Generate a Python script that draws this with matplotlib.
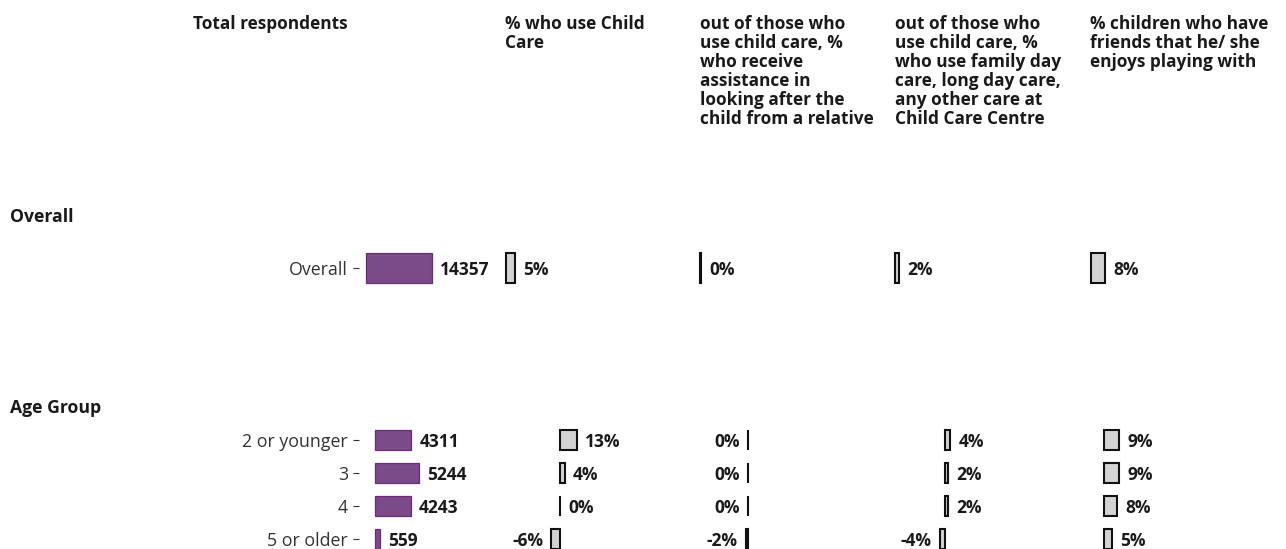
import matplotlib.pyplot as plt

# ---- data ----
headers = [
    "Total respondents",
    "% who use Child\nCare",
    "out of those who\nuse child care, %\nwho receive\nassistance in\nlooking after the\nchild from a relative",
    "out of those who\nuse child care, %\nwho use family day\ncare, long day care,\nany other care at\nChild Care Centre",
    "% children who have\nfriends that he/ she\nenjoys playing with",
]

overall_labels = ["Overall"]
overall_total = [14357]
overall_child_care = [5.0]
overall_relative = [0.2]
overall_centre = [2.4]
overall_friends = [8.0]

age_labels = ["2 or younger", "3", "4", "5 or older"]
age_total = [4311, 5244, 4243, 559]
age_child_care = [13, 4, 0.3, -6]
age_relative = [-0.3, -0.3, -0.3, -2]
age_centre = [4, 2, 2, -4]
age_friends = [9, 9, 8, 5]

# ---- layout (pixels) ----
W, H = 1286, 549
FONT = "Open Sans"
PURPLE = "#7b4a88"
PURPLE_EDGE = "#6a2a78"
GREY = "#d3d3d3"

header_x = [193, 505, 700, 895, 1090]
col_left = [358.5, 480, 680, 875, 1070]
col_width = [140, 200, 200, 200, 200]

fig = plt.figure(figsize=(W / 100, H / 100), dpi=100)


def px_axes(left, top, width, height):
    return fig.add_axes([left / W, 1 - (top + height) / H, width / W, height / H])


def draw_row(labels, series, top, row_h, baselines, scales):
    n = len(labels)
    ypos = list(range(n))
    for i, vals in enumerate(series):
        ax = px_axes(col_left[i], top, col_width[i], row_h * n)
        x0, s = baselines[i], scales[i]
        ax.set_xlim((col_left[i] - x0) / s, (col_left[i] + col_width[i] - x0) / s)
        ax.set_ylim(n - 0.5, -0.5)
        if i == 0:
            ax.barh(ypos, vals, height=0.6, color=PURPLE, edgecolor=PURPLE_EDGE, linewidth=0.9)
        else:
            ax.barh(ypos, vals, height=0.6, color=GREY, edgecolor="#111111", linewidth=1.5)
        for y, v in zip(ypos, vals):
            txt = str(v) if i == 0 else f"{round(v):.0f}%"
            neg = v < 0
            ax.annotate(txt, xy=(v, y), xytext=(-6 if neg else 6, 0),
                        textcoords="offset points", ha="right" if neg else "left",
                        va="center_baseline", fontsize=12.5, fontweight="bold",
                        family=FONT, color="#1a1a1a")
        for sp in ax.spines.values():
            sp.set_visible(False)
        ax.set_xticks([])
        ax.patch.set_visible(False)
        if i == 0:
            ax.set_yticks(ypos)
            ax.set_yticklabels(labels, fontsize=12.8, family=FONT, color="#333333")
            ax.tick_params(axis="y", length=4.5, width=0.8, color="#333333", pad=3)
        else:
            ax.set_yticks([])


# Overall row
draw_row(overall_labels,
         [overall_total, overall_child_care, overall_relative, overall_centre, overall_friends],
         top=243, row_h=50,
         baselines=[366, 505.5, 700.5, 894.5, 1090.5],
         scales=[66 / 14357, 1.8, 1.8, 1.8, 1.8])

# Age group row
draw_row(age_labels,
         [age_total, age_child_care, age_relative, age_centre, age_friends],
         top=423.5, row_h=33,
         baselines=[375, 559.5, 748.5, 945, 1103.5],
         scales=[44 / 5244, 1.35, 1.35, 1.35, 1.7])

# column headers
for x, h in zip(header_x, headers):
    fig.text(x / W, 1 - 15 / H, h, ha="left", va="top", fontsize=12.4,
             fontweight="bold", family=FONT, color="#1a1a1a", linespacing=1.07)

# row group labels
fig.text(10 / W, 1 - 217 / H, "Overall", ha="left", va="center", fontsize=12.7,
         fontweight="bold", family=FONT, color="#1a1a1a")
fig.text(10 / W, 1 - 408 / H, "Age Group", ha="left", va="center", fontsize=12.7,
         fontweight="bold", family=FONT, color="#1a1a1a")

fig.savefig("out.png", dpi=100)
